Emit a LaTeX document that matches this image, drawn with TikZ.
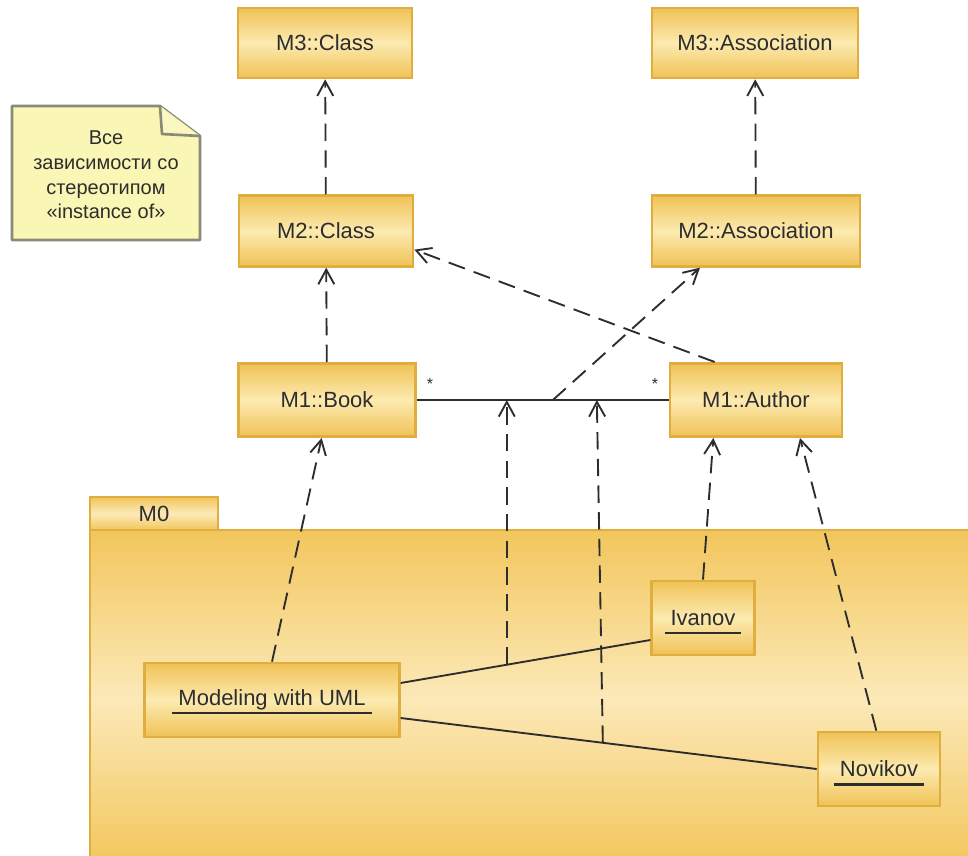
\documentclass[tikz,border=0pt]{standalone}
\usepackage{fontspec}
\setmainfont{Liberation Sans}
\usetikzlibrary{arrows.meta}

\definecolor{boxdark}{RGB}{240,194,86}
\definecolor{boxlight}{RGB}{252,234,176}
\definecolor{boxedge}{RGB}{224,174,62}
\definecolor{pkgdark}{RGB}{242,198,92}
\definecolor{pkglight}{RGB}{252,233,184}
\definecolor{notefill}{RGB}{250,246,182}
\definecolor{noteedge}{RGB}{138,138,120}
\definecolor{ink}{RGB}{45,45,45}

% instance name: text with a thick underline that does not affect centring
\newcommand\instname[1]{%
  \setbox0\hbox{#1}%
  \rlap{\kern-4.5pt\smash{\raisebox{-6.5pt}{\color{ink}\rule{\dimexpr\wd0+9pt\relax}{1.6pt}}}}%
  \box0}

\tikzset{
  umlbox/.style={draw=boxedge, line width=2pt, inner sep=0pt,
    top color=boxdark, bottom color=boxdark, middle color=boxlight,
    text=ink, font=\fontsize{16.5}{19}\selectfont},
  dep/.style={draw=ink, line width=1.4pt, dash pattern=on 13pt off 7pt,
    -{Straight Barb[length=11pt,width=12pt,line width=1.4pt]}},
  link/.style={draw=ink, line width=1.4pt},
  mult/.style={font=\fontsize{12}{14}\selectfont, text=ink, inner sep=0pt}
}

\begin{document}
\begin{tikzpicture}[x=0.75pt, y=-0.75pt]
\useasboundingbox (0,0) rectangle (968,856);
\clip (0,0) rectangle (968,856);
\fill[white] (0,0) rectangle (968,856);

% package M0
\path[draw=boxedge, line width=1.5pt, top color=pkgdark, bottom color=pkgdark,
      middle color=pkglight] (90,497) rectangle (218,530);
\node[text=ink, font=\fontsize{16.5}{19}\selectfont] (pkgname) at (154,514) {M0};
\path[draw=boxedge, line width=1.5pt, shading=axis, top color=pkgdark,
      bottom color=pkgdark, middle color=pkglight] (90,530) rectangle (975,866);

% note with folded corner
\path[fill=notefill, draw=noteedge, line width=2pt, line join=round]
  (12,106) -- (160,106) -- (200,136) -- (200,240) -- (12,240) -- cycle;
\path[fill=notefill!85!white, draw=noteedge, line width=2pt, line join=round]
  (160,106) -- (162,134) -- (200,136);
\node[align=center, text=ink, font=\fontsize{15}{18.5}\selectfont] (note) at (106,175)
  {Все\\зависимости со\\стереотипом\\«instance of»};

% classifiers
\node[umlbox, minimum width=130.5pt, minimum height=52.5pt] (m3class) at (325,43) {M3::Class};
\node[umlbox, minimum width=154.5pt, minimum height=52.5pt] (m3assoc) at (755,43) {M3::Association};
\node[umlbox, minimum width=130.5pt, minimum height=53pt] (m2class) at (326,231) {M2::Class};
\node[umlbox, minimum width=156pt, minimum height=53pt] (m2assoc) at (756,231) {M2::Association};
\node[umlbox, minimum width=133pt, minimum height=55pt] (book) at (327,400) {M1::Book};
\node[umlbox, minimum width=129pt, minimum height=55pt] (author) at (756,400) {M1::Author};

% instances
\node[umlbox, minimum width=191pt, minimum height=55.5pt] (model) at (272,700) {\instname{Modeling with UML}};
\node[umlbox, minimum width=77pt, minimum height=55.5pt] (ivanov) at (703,618) {\instname{Ivanov}};
\node[umlbox, minimum width=91.5pt, minimum height=55.5pt] (novikov) at (879,769) {\instname{Novikov}};

% association between Book and Author
\draw[link] (book.east) -- coordinate[pos=0.36] (a1) coordinate[pos=0.54] (a2)
  coordinate[pos=0.714] (a3) (author.west);
\node[mult] (mbook) at (430,384) {*};
\node[mult] (mauthor) at (655,384) {*};

% links between instances
\draw[link] ([yshift=12.75pt]model.east) -- coordinate[pos=0.425] (l1)
  ([yshift=-16.5pt]ivanov.west);
\draw[link] ([yshift=-13.5pt]model.east) -- coordinate[pos=0.486] (l2) (novikov.west);

% instance-of dependencies
\draw[dep] (m2class) -- (m3class);
\draw[dep] (m2assoc) -- (m3assoc);
\draw[dep] (book) -- (m2class);
\draw[dep] ([xshift=-31pt]author.north) -- ([yshift=-14pt]m2class.east);
\draw[dep] (a2) -- ([xshift=-42pt]m2assoc.south);
\draw[dep] (model.north) -- ([xshift=-4pt]book.south);
\draw[dep] (l1) -- (l1 |- a1);
\draw[dep] (l2) -- ([xshift=-4.5pt]l2 |- a3);
\draw[dep] (ivanov.north) -- ([xshift=-32pt]author.south);
\draw[dep] ([xshift=-2pt]novikov.north) -- ([xshift=33pt]author.south);
\end{tikzpicture}
\end{document}
